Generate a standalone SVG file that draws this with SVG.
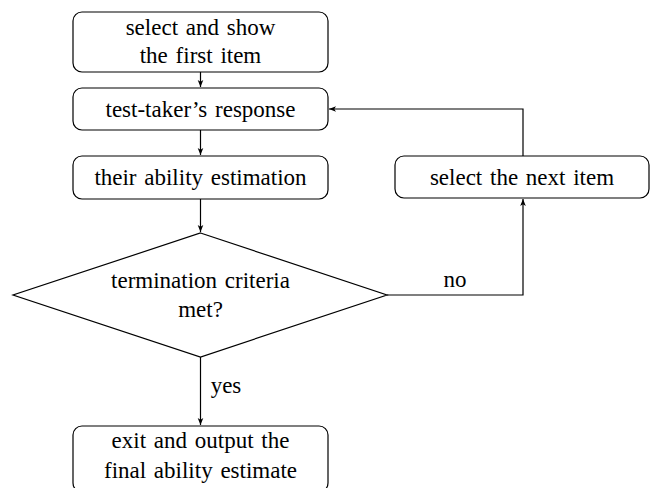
<svg xmlns="http://www.w3.org/2000/svg" width="650" height="488" viewBox="0 0 650 488">
<defs>
<style>
.box{fill:#fff;stroke:#000;stroke-width:1.2}
.t{font-family:'Liberation Serif','DejaVu Serif',serif;font-size:23px;fill:#000;text-anchor:middle;word-spacing:2px}
.c{fill:none;stroke:#000;stroke-width:1.2}
</style>
<marker id="ah" viewBox="0 0 10 10" refX="10" refY="5" markerWidth="7" markerHeight="7" markerUnits="userSpaceOnUse" orient="auto">
<path d="M0,1 L10,5 L0,9 L2.5,5 Z" fill="#000"/>
</marker>
</defs>
<g id="connectors">
<line class="c" x1="200.5" y1="72" x2="200.5" y2="87" marker-end="url(#ah)"/>
<line class="c" x1="200.5" y1="130" x2="200.5" y2="155" marker-end="url(#ah)"/>
<line class="c" x1="200.5" y1="199" x2="200.5" y2="232" marker-end="url(#ah)"/>
<polyline class="c" points="387,295 523,295 523,199" marker-end="url(#ah)"/>
<polyline class="c" points="523,156 523,109 329,109" marker-end="url(#ah)"/>
<line class="c" x1="200.5" y1="357" x2="200.5" y2="425" marker-end="url(#ah)"/>
<text class="t" x="455" y="287" font-family="Liberation Serif, serif">no</text>
<text class="t" x="226" y="393" font-family="Liberation Serif, serif">yes</text>
</g>
<g id="first">
<rect class="box" x="73" y="12" width="255" height="60" rx="9"/>
<text class="t" x="200.5" y="35">select and show</text>
<text class="t" x="200.5" y="63">the first item</text>
</g>
<g id="response">
<rect class="box" x="73" y="88" width="255" height="42" rx="9"/>
<text class="t" x="200.5" y="117">test-taker’s response</text>
</g>
<g id="estimation">
<rect class="box" x="73" y="156" width="255" height="43" rx="9"/>
<text class="t" x="200.5" y="185">their ability estimation</text>
</g>
<g id="decision">
<polygon class="box" points="200.5,233 387,295 200.5,357 13,295"/>
<text class="t" x="200.5" y="288">termination criteria</text>
<text class="t" x="200.5" y="317">met?</text>
</g>
<g id="next">
<rect class="box" x="395" y="156" width="254" height="42" rx="9"/>
<text class="t" x="522" y="185">select the next item</text>
</g>
<g id="exit">
<rect class="box" x="73" y="426" width="255" height="66" rx="9"/>
<text class="t" x="200.5" y="448">exit and output the</text>
<text class="t" x="200.5" y="478">final ability estimate</text>
</g>
</svg>
